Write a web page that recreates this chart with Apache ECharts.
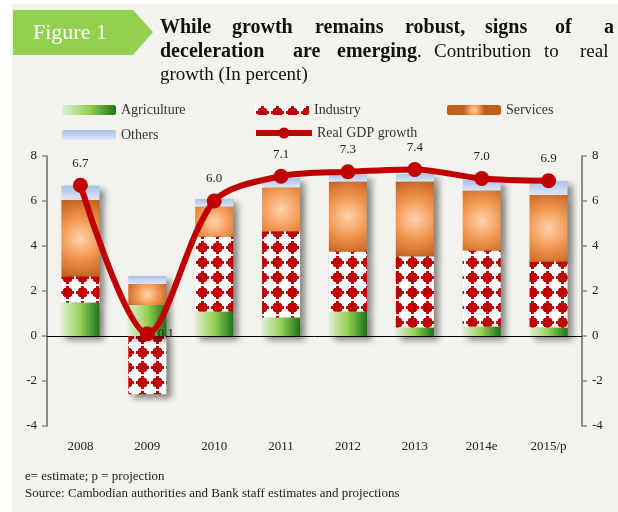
<!DOCTYPE html>
<html>
<head>
<meta charset="utf-8">
<script src="https://cdn.jsdelivr.net/npm/echarts@6/dist/echarts.min.js"></script>
<style>
  html, body { margin: 0; padding: 0; background: #fff; }
  #chart { width: 618px; height: 512px; }
</style>
</head>
<body>
<div id="chart"></div>
<script>
// values (percentage point contributions)
var years = ['2008', '2009', '2010', '2011', '2012', '2013', '2014e', '2015/p'];
var agriculture = [1.48, 1.38, 1.08, 0.81, 1.08, 0.37, 0.41, 0.37];
var industry = [1.16, -2.59, 3.33, 3.83, 2.67, 3.16, 3.38, 2.93];
var services = [3.40, 0.93, 1.34, 1.95, 3.11, 3.33, 2.67, 2.97];
var others = [0.64, 0.36, 0.34, 0.42, 0.30, 0.33, 0.47, 0.62];
var gdpGrowth = [6.7, 0.1, 6.0, 7.1, 7.3, 7.4, 7.0, 6.9];

var serif = '"Liberation Serif", "DejaVu Serif", serif';
var red = '#c00000';

// stepped red diamonds on white for Industry
function industryPattern() {
  var c = document.createElement('canvas');
  c.width = 15;
  c.height = 15;
  var ctx = c.getContext('2d');
  ctx.fillStyle = '#fff';
  ctx.fillRect(0, 0, 15, 15);
  ctx.fillStyle = red;
  ctx.fillRect(6, 1, 3, 13);
  ctx.fillRect(4, 3, 7, 9);
  ctx.fillRect(3, 4, 9, 7);
  ctx.fillRect(1, 6, 13, 3);
  return c;
}

var barShadow = {
  shadowBlur: 6,
  shadowColor: 'rgba(0,0,0,0.45)',
  shadowOffsetX: 5,
  shadowOffsetY: 4
};

function barSeries(name, data, color, z) {
  return {
    name: name,
    type: 'bar',
    stack: 'gdp',
    barWidth: 38,
    z: z,
    data: data,
    itemStyle: Object.assign({ color: color }, barShadow)
  };
}

function legendItem(name, left, top, w, h) {
  return {
    data: [name],
    left: left,
    top: top,
    padding: 0,
    itemWidth: w,
    itemHeight: h,
    selectedMode: false,
    itemStyle: { shadowBlur: 0, shadowOffsetX: 0, shadowOffsetY: 0 },
    lineStyle: { width: 6 },
    textStyle: { fontFamily: serif, fontSize: 14, color: '#333' }
  };
}

function word(text, x, y, bold) {
  return {
    type: 'text',
    x: x,
    y: y,
    style: {
      text: text,
      fill: '#111',
      font: (bold ? 'bold 20px ' : '19px ') + serif,
      verticalAlign: 'middle'
    }
  };
}

var chart = echarts.init(document.getElementById('chart'));

chart.setOption({
  animation: false,
  backgroundColor: '#fff',
  graphic: [
    { type: 'rect', shape: { x: 12, y: 4, width: 606, height: 508 }, style: { fill: '#f3f2ec' }, z: -1 },
    { type: 'polygon', shape: { points: [[13, 10], [133, 10], [153, 32], [133, 55], [13, 55]] }, style: { fill: '#92d050' } },
    { type: 'text', x: 33, y: 33, style: { text: 'Figure 1', fill: '#fff', font: '22px ' + serif, verticalAlign: 'middle' } },
    word('While', 160, 28, true),
    word('growth', 232, 28, true),
    word('remains', 315, 28, true),
    word('robust,', 405, 28, true),
    word('signs', 485, 28, true),
    word('of', 555, 28, true),
    word('a', 604, 28, true),
    word('deceleration', 160, 52, true),
    word('are', 293, 52, true),
    {
      type: 'text', x: 337, y: 52,
      style: {
        text: '{b|emerging}{n|.}',
        verticalAlign: 'middle',
        rich: {
          b: { font: 'bold 20px ' + serif, fill: '#111' },
          n: { font: '19px ' + serif, fill: '#111' }
        }
      }
    },
    word('Contribution', 434, 52, false),
    word('to', 544, 52, false),
    word('real', 580, 52, false),
    word('growth (In percent)', 160, 75, false),
    { type: 'text', x: 25, y: 477, style: { text: 'e= estimate; p = projection', fill: '#222', font: '13px ' + serif, verticalAlign: 'middle' } },
    { type: 'text', x: 25, y: 494, style: { text: 'Source: Cambodian authorities and Bank staff estimates and projections', fill: '#222', font: '13px ' + serif, verticalAlign: 'middle' } }
  ],
  legend: [
    legendItem('Agriculture', 62, 103, 54, 10),
    legendItem('Industry', 255, 103, 54, 10),
    legendItem('Services', 447, 103, 54, 10),
    legendItem('Others', 62, 128, 54, 10),
    legendItem('Real GDP growth', 253, 126, 56, 14)
  ],
  grid: { left: 47, right: 36, top: 156, bottom: 86 },
  xAxis: {
    type: 'category',
    data: years,
    axisLine: { show: false },
    axisTick: { show: false },
    axisLabel: { fontFamily: serif, fontSize: 13, color: '#222', margin: 14 }
  },
  yAxis: [0, 1].map(function (i) {
    return {
      type: 'value',
      min: -4,
      max: 8,
      interval: 2,
      position: i ? 'right' : 'left',
      axisLine: { show: true, lineStyle: { color: '#8c8c8c', width: 2 } },
      axisTick: { show: true, length: 5, lineStyle: { color: '#8c8c8c', width: 1.5 } },
      splitLine: { show: false },
      axisLabel: { fontFamily: serif, fontSize: 13, color: '#222', margin: 10 }
    };
  }),
  series: [
    barSeries('Agriculture', agriculture, {
      type: 'linear', x: 0, y: 0, x2: 1, y2: 0,
      colorStops: [
        { offset: 0, color: '#e2eed6' },
        { offset: 0.5, color: '#94d154' },
        { offset: 1, color: '#1b741b' }
      ]
    }, 6),
    barSeries('Industry', industry, { image: industryPattern(), repeat: 'repeat' }, 5),
    barSeries('Services', services, {
      type: 'radial', x: 0.5, y: 0.5, r: 1.1,
      colorStops: [
        { offset: 0, color: '#fdd3ad' },
        { offset: 0.45, color: '#f39a55' },
        { offset: 1, color: '#bf5f18' }
      ]
    }, 4),
    barSeries('Others', others, {
      type: 'linear', x: 0, y: 0, x2: 0, y2: 1,
      colorStops: [
        { offset: 0, color: '#a8c0ea' },
        { offset: 1, color: '#e0e8f6' }
      ]
    }, 3),
    {
      name: 'Real GDP growth',
      type: 'line',
      z: 10,
      smooth: 0.3,
      symbol: 'circle',
      symbolSize: 15,
      data: gdpGrowth.map(function (v) {
        return v < 1 ? { value: v, label: { position: 'right', distance: 3 } } : v;
      }),
      lineStyle: { color: red, width: 6 },
      itemStyle: { color: red },
      label: {
        show: true,
        position: 'top',
        distance: 8,
        fontFamily: serif,
        fontSize: 13,
        color: '#222',
        formatter: function (p) { return p.value.toFixed(1); }
      },
      markLine: {
        silent: true,
        symbol: 'none',
        label: { show: false },
        lineStyle: { color: '#000', width: 1, type: 'solid' },
        data: [{ yAxis: 0 }]
      }
    }
  ]
});
</script>
</body>
</html>
